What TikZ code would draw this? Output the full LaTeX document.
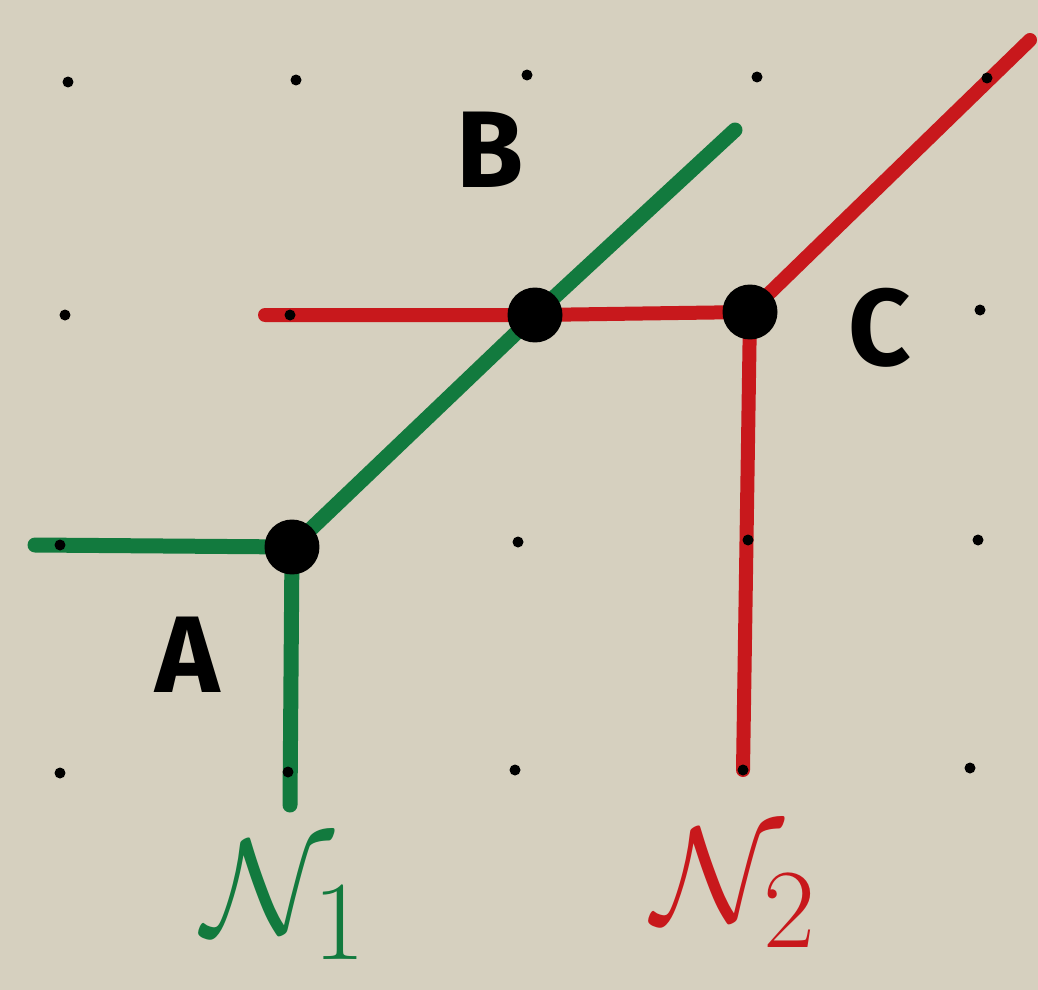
\documentclass[tikz,border=0pt]{standalone}
\usepackage{fontspec}
\setmainfont{Fira Sans}
\begin{document}
\begin{tikzpicture}[x=0.02cm,y=-0.02cm,
  griddot/.style={circle,fill=black,inner sep=0pt,minimum size=0.22cm},
  bigdot/.style={circle,fill=black,inner sep=0pt,minimum size=1.1cm},
  gline/.style={draw=penGreen,line width=0.3cm,line cap=round,line join=round},
  rline/.style={draw=penRed,line width=0.28cm,line cap=round,line join=round},
  lbl/.style={text=black,font=\fontsize{62}{66}\selectfont\bfseries},
  netlbl/.style={font=\Huge,scale=3.1,inner sep=0pt}]
\definecolor{paper}{RGB}{214,208,191}
\definecolor{penGreen}{RGB}{18,122,62}
\definecolor{penRed}{RGB}{200,24,28}
\fill[paper] (0,0) rectangle (1038,990);
\useasboundingbox (0,0) rectangle (1038,990);
% endpoints
\coordinate (gl) at (35,545);
\coordinate (gb) at (290,805);
\coordinate (gt) at (735,130);
\coordinate (rl) at (265,315);
\coordinate (rt) at (1030,40);
\coordinate (rb) at (743,770);
\coordinate (A) at (292,547);
\coordinate (B) at (535,315);
\coordinate (C) at (750,312);
% green net
\draw[gline] (gl) -- (A) -- (B) -- (gt);
\draw[gline] (A) -- (gb);
% red net
\draw[rline] (rl) -- (B) -- (C) -- (rt);
\draw[rline] (C) -- (rb);
% grid dots
\foreach \x/\y [count=\i] in {68/82,296/80,527/75,757/77,987/78,
  65/315,290/315,980/310,
  60/545,518/542,748/540,978/540,
  60/773,288/772,515/770,743/770,970/768}
  \node[griddot] (d\i) at (\x,\y) {};
% big dots
\node[bigdot] (nA) at (A) {};
\node[bigdot] (nB) at (B) {};
\node[bigdot] (nC) at (C) {};
% labels
\node[lbl] (lB) at (490,150) {B};
\node[lbl] (lC) at (880,328) {C};
\node[lbl] (lA) at (188,655) {A};
\node[netlbl,text=penGreen] (n1) at (285,900) {$\mathcal{N}_1$};
\node[netlbl,text=penRed] (n2) at (735,888) {$\mathcal{N}_2$};
\end{tikzpicture}
\end{document}
